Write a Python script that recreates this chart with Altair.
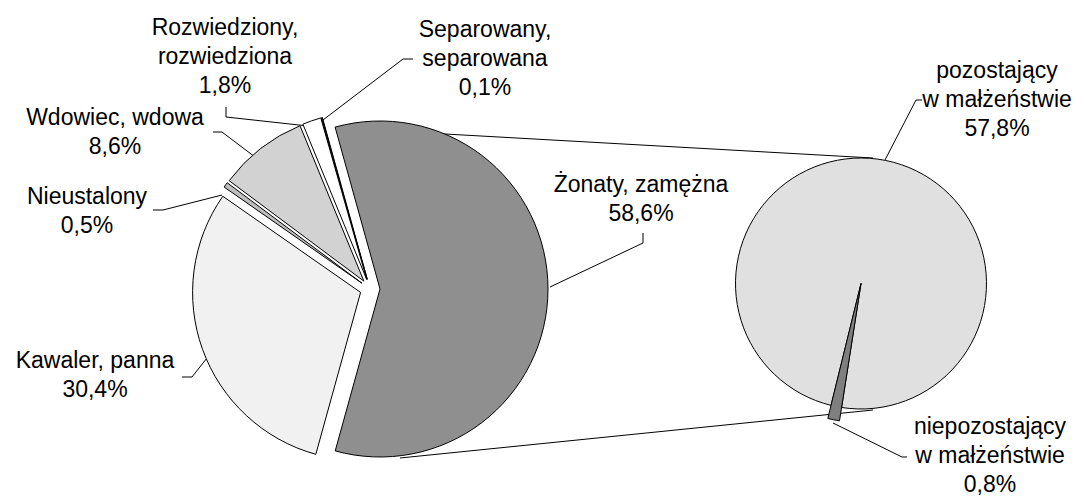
import math
import altair as alt
import pandas as pd

# ---------------- data ----------------
categories = ["Żonaty, zamężna", "Kawaler, panna", "Nieustalony",
              "Wdowiec, wdowa", "Rozwiedziony, rozwiedziona", "Separowany, separowana"]
shares = [58.6, 30.4, 0.5, 8.6, 1.8, 0.1]
label_names = ["Żonaty, zamężna", "Kawaler, panna", "Nieustalony",
               "Wdowiec, wdowa", "Rozwiedziony,\nrozwiedziona", "Separowany,\nseparowana"]

sub_categories = ["niepozostający w małżeństwie", "pozostający w małżeństwie"]
sub_shares = [0.8, 57.8]
sub_label_names = ["niepozostający\nw małżeństwie", "pozostający\nw małżeństwie"]

# ---------------- styles / layout ----------------
left_colors = ["#8f8f8f", "#f1f1f1", "#bdbdbd", "#d2d2d2", "#ffffff", "#000000"]
right_colors = ["#7f7f7f", "#e0e0e0"]
M = 8  # page margin
FONT = "Liberation Sans"

L_CX, L_CY, L_R, EXPLODE = 370 - M, 289 - M, 168, 10
L_START = math.radians(-15.5)
R_CX, R_CY, R_R, R_R_SMALL = 861 - M, 283.5 - M, 125.5, 139
R_START = math.radians(188.9)

# label anchor (center x, first baseline y) in page px
label_pos = {
    "Żonaty, zamężna": (641, 192),
    "Kawaler, panna": (95, 368),
    "Nieustalony": (87, 204),
    "Wdowiec, wdowa": (115, 125),
    "Rozwiedziony, rozwiedziona": (225, 35),
    "Separowany, separowana": (485, 37),
    "niepozostający w małżeństwie": (990, 434),
    "pozostający w małżeństwie": (997, 78),
}
# leader / connector segments in page px
segments = [
    (413, 59, 403, 59), (403, 59, 323, 120),
    (226, 107, 226, 117), (226, 117, 308, 126),
    (213, 132, 222, 132), (222, 132, 255, 157),
    (153, 210, 163, 210), (163, 210, 222, 195),
    (182, 377, 192, 377), (192, 377, 207, 358),
    (643, 233, 643, 243), (643, 243, 550, 287),
    (922, 100, 916, 100), (916, 100, 885, 160),
    (907, 457, 902, 457), (902, 457, 833, 423),
    (338, 128, 873, 158), (400, 458, 873, 410),
]


def fmt(v):
    return f"{v:.1f}".replace(".", ",") + "%"


all_cats = categories + sub_categories
color_scale = alt.Scale(domain=all_cats, range=left_colors + right_colors)

# ---------------- left pie ----------------
left_df = pd.DataFrame({"cat": categories, "share": shares, "order": list(range(len(categories)))})
left = (
    alt.Chart(left_df)
    .transform_window(cum="sum(share)", sort=[alt.SortField("order")], frame=[None, 0])
    .transform_calculate(t0="datum.cum - datum.share", mid="datum.cum - datum.share / 2")
    .transform_calculate(ang=f"{L_START} + datum.mid / 100 * 2 * PI")
    .transform_calculate(px=f"{L_CX} + {EXPLODE} * sin(datum.ang)",
                         py=f"{L_CY} - {EXPLODE} * cos(datum.ang)")
    .mark_arc(radius=L_R, stroke="black", strokeWidth=1)
    .encode(
        theta=alt.Theta("t0:Q", stack=None,
                        scale=alt.Scale(domain=[0, 100], range=[L_START, L_START + 2 * math.pi])),
        theta2="cum:Q",
        x=alt.X("px:Q", scale=None, axis=None),
        y=alt.Y("py:Q", scale=None, axis=None),
        color=alt.Color("cat:N", scale=color_scale, legend=None),
    )
)

# ---------------- right pie ----------------
right_df = pd.DataFrame({"cat": sub_categories, "share": sub_shares,
                         "order": list(range(len(sub_categories)))})
total_sub = sum(sub_shares)


def right_layer(cat, radius):
    return (
        alt.Chart(right_df)
        .transform_window(cum="sum(share)", sort=[alt.SortField("order")], frame=[None, 0])
        .transform_calculate(t0="datum.cum - datum.share")
        .transform_filter(alt.datum.cat == cat)
        .mark_arc(radius=radius, stroke="black", strokeWidth=1)
        .encode(
            theta=alt.Theta("t0:Q", stack=None,
                            scale=alt.Scale(domain=[0, total_sub],
                                            range=[R_START, R_START + 2 * math.pi])),
            theta2="cum:Q",
            x=alt.value(R_CX),
            y=alt.value(R_CY),
            color=alt.Color("cat:N", scale=color_scale, legend=None),
        )
    )


right_big = right_layer(sub_categories[1], R_R)
right_small = right_layer(sub_categories[0], R_R_SMALL)

# ---------------- labels ----------------
lab_rows = []
for c, n, v in zip(categories, label_names, shares):
    x, y = label_pos[c]
    lab_rows.append({"txt": n + "\n" + fmt(v), "lx": x - M, "ly": y - M})
for c, n, v in zip(sub_categories, sub_label_names, sub_shares):
    x, y = label_pos[c]
    lab_rows.append({"txt": n + "\n" + fmt(v), "lx": x - M, "ly": y - M})
labels = (
    alt.Chart(pd.DataFrame(lab_rows))
    .mark_text(font=FONT, fontSize=23, lineBreak="\n", lineHeight=29,
               align="center", baseline="alphabetic", color="black")
    .encode(text="txt:N",
            x=alt.X("lx:Q", scale=None, axis=None),
            y=alt.Y("ly:Q", scale=None, axis=None))
)

# ---------------- lines ----------------
seg_df = pd.DataFrame([{"x": a - M, "y": b - M, "x2": c - M, "y2": d - M}
                       for a, b, c, d in segments])
lines = (
    alt.Chart(seg_df)
    .mark_rule(color="black", strokeWidth=1)
    .encode(x=alt.X("x:Q", scale=None, axis=None), y=alt.Y("y:Q", scale=None, axis=None),
            x2="x2:Q", y2="y2:Q")
)

chart = (
    alt.layer(lines, left, right_big, right_small, labels)
    .resolve_scale(theta="independent")
    .properties(width=1069, height=488, padding=0, autosize="none", background="white")
    .configure_view(stroke=None)
)

chart.save("out.html", embed_options={"renderer": "svg", "actions": False})
